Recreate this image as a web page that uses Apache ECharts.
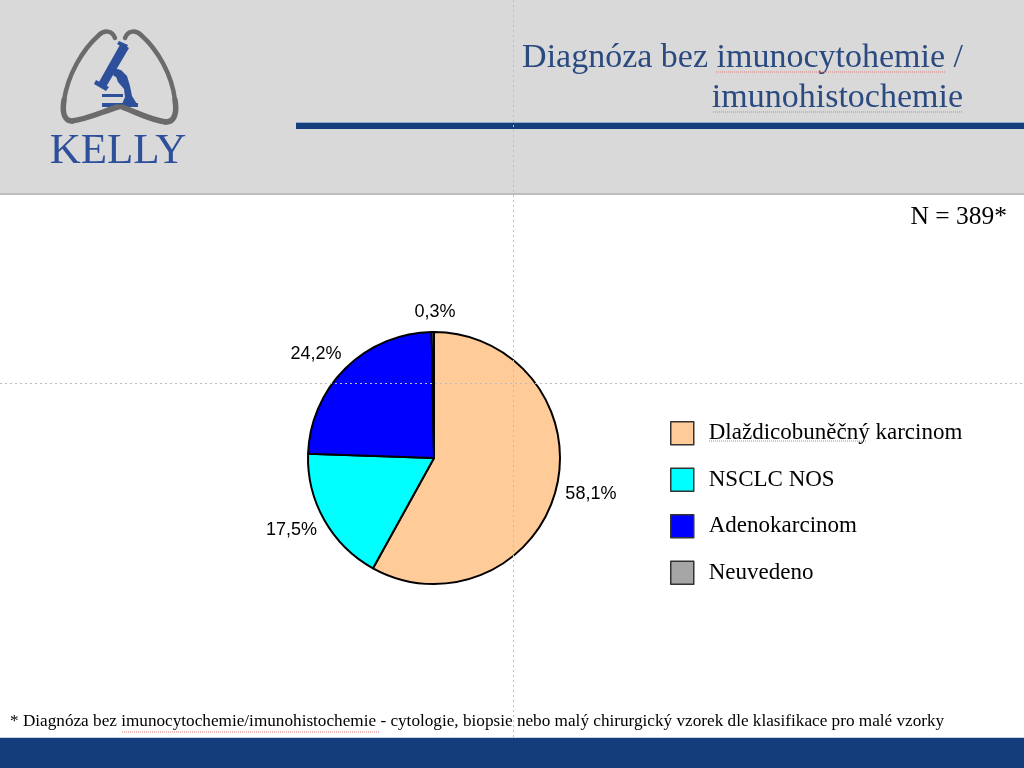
<!DOCTYPE html>
<html>
<head>
<meta charset="utf-8">
<title>Diagnóza bez imunocytohemie / imunohistochemie</title>
<script src="https://cdn.jsdelivr.net/npm/echarts@6/dist/echarts.min.js"></script>
<style>
  html, body { margin: 0; padding: 0; background: #fff; }
  #slide { width: 1024px; height: 768px; }
</style>
</head>
<body>
<div id="slide"></div>
<script>
// data
var categories = ['Dlaždicobuněčný karcinom', 'NSCLC NOS', 'Adenokarcinom', 'Neuvedeno'];
var shares = [58.1, 17.5, 24.2, 0.3];
var colors = ['#FFCC99', '#00FFFF', '#0000FF', '#A6A6A6'];

var Chart = echarts.init(document.getElementById('slide'));

var serif = '"Liberation Serif", "DejaVu Serif", serif';
var navy = '#143E7C';
var logoBlue = '#2E4F9A';

// one cubic segment of the lung outline
function curve(p, w) {
    return {
        type: 'bezierCurve',
        shape: { x1: p[0], y1: p[1], cpx1: p[2], cpy1: p[3], cpx2: p[4], cpy2: p[5], x2: p[6], y2: p[7] },
        style: { fill: 'none', stroke: '#6B6B6B', lineWidth: w || 4.5, lineCap: 'round' }
    };
}

var lungs = [
    curve([115, 38, 112, 30, 104, 30, 99, 35]),
    curve([99, 35, 82, 50, 68, 75, 64, 100]),
    curve([64, 100, 62, 112, 64, 121, 72, 121], 5.5),
    curve([72, 121, 88, 119, 104, 111, 118, 107], 5.5),
    curve([125, 38, 128, 30, 136, 30, 141, 35]),
    curve([141, 35, 158, 50, 172, 75, 175, 100]),
    curve([175, 100, 177, 112, 175, 122, 166, 122], 5.5),
    curve([166, 122, 150, 120, 136, 112, 122, 107], 5.5)
];

// red spell-check squiggles under some words
function squiggle(x1, x2, y) {
    return {
        type: 'line', shape: { x1: x1, y1: y, x2: x2, y2: y },
        style: { stroke: '#E07A7A', lineWidth: 1, lineDash: [1, 1] }
    };
}

var option = {
    backgroundColor: '#fff',
    animation: false,
    color: colors,
    legend: {
        orient: 'vertical',
        left: 665,
        top: 416,
        itemWidth: 23,
        itemHeight: 23,
        itemGap: 22,
        icon: 'rect',
        selectedMode: false,
        data: categories,
        itemStyle: { borderColor: '#333', borderWidth: 1.5 },
        textStyle: { fontFamily: serif, fontSize: 23, color: '#000', padding: [0, 0, 0, 10] }
    },
    graphic: [
        // header
        { type: 'rect', shape: { x: 0, y: 0, width: 1024, height: 193 }, style: { fill: '#D9D9D9' }, z: -10 },
        { type: 'rect', shape: { x: 0, y: 193, width: 1024, height: 2 }, style: { fill: '#BDBDBD' }, z: -10 },
        { type: 'rect', shape: { x: 296, y: 122, width: 728, height: 1 }, style: { fill: '#8FA9D0' }, z: -9 },
        { type: 'rect', shape: { x: 296, y: 123, width: 728, height: 6 }, style: { fill: navy }, z: -9 },
        {
            type: 'text', x: 963, y: 58,
            style: { text: 'Diagnóza bez imunocytohemie /', font: '34px ' + serif, fill: '#2B4A80', align: 'right', verticalAlign: 'middle' }
        },
        {
            type: 'text', x: 963, y: 98,
            style: { text: 'imunohistochemie', font: '34px ' + serif, fill: '#2B4A80', align: 'right', verticalAlign: 'middle' }
        },
        squiggle(716, 946, 72),
        squiggle(713, 963, 112),
        squiggle(709, 866, 441),
        squiggle(122, 380, 732),
        // logo: microscope
        { type: 'polygon', shape: { points: [[121, 43], [129, 48], [106, 87], [99, 82]] }, style: { fill: logoBlue } },
        { type: 'polygon', shape: { points: [[119, 41], [128, 45], [126, 49], [117, 44]] }, style: { fill: logoBlue } },
        { type: 'polygon', shape: { points: [[96, 80], [109, 87], [106, 91], [94, 84]] }, style: { fill: logoBlue } },
        {
            type: 'polygon',
            shape: { points: [[114, 71], [121, 70], [127, 76], [130, 86], [132, 96], [137, 104], [122, 104], [125, 97], [124, 89], [118, 82]] },
            style: { fill: logoBlue }
        },
        { type: 'circle', shape: { cx: 117, cy: 73, r: 4 }, style: { fill: logoBlue } },
        { type: 'rect', shape: { x: 102, y: 94, width: 21, height: 3 }, style: { fill: logoBlue } },
        { type: 'rect', shape: { x: 102, y: 103, width: 36, height: 4 }, style: { fill: logoBlue } },
        {
            type: 'text', x: 118, y: 152,
            style: { text: 'KELLY', font: '43px ' + serif, fill: logoBlue, align: 'center', verticalAlign: 'middle' }
        },
        // sample size
        {
            type: 'text', x: 1007, y: 217,
            style: { text: 'N = 389*', font: '25.5px ' + serif, fill: '#000', align: 'right', verticalAlign: 'middle' }
        },
        // guides, drawn over the chart
        {
            type: 'line', shape: { x1: 513.5, y1: 0, x2: 513.5, y2: 768 },
            style: { stroke: '#BDBDBD', lineWidth: 1, lineDash: [2, 3] }, z: 50
        },
        {
            type: 'line', shape: { x1: 0, y1: 383.5, x2: 1024, y2: 383.5 },
            style: { stroke: '#BDBDBD', lineWidth: 1, lineDash: [2, 3] }, z: 50
        },
        // footnote
        {
            type: 'text', x: 10, y: 721,
            style: {
                text: '* Diagnóza bez imunocytochemie/imunohistochemie - cytologie, biopsie nebo malý chirurgický vzorek dle klasifikace pro malé vzorky',
                font: '17.2px ' + serif, fill: '#000', align: 'left', verticalAlign: 'middle'
            }
        },
        // bottom band
        { type: 'rect', shape: { x: 0, y: 737, width: 1024, height: 1 }, style: { fill: '#C9D3E3' }, z: 60 },
        { type: 'rect', shape: { x: 0, y: 738, width: 1024, height: 30 }, style: { fill: '#133E7B' }, z: 60 }
    ].concat(lungs),
    series: [
        {
            type: 'pie',
            center: [434, 458],
            radius: [0, 126],
            startAngle: 90,
            clockwise: true,
            avoidLabelOverlap: false,
            itemStyle: { borderColor: '#000', borderWidth: 2 },
            emphasis: { disabled: true },
            label: {
                show: true,
                position: 'outside',
                fontFamily: '"Liberation Sans", Arial, sans-serif',
                fontSize: 18,
                color: '#000',
                distanceToLabelLine: -10,
                formatter: function (p) {
                    return p.value.toFixed(1).replace('.', ',') + '%';
                }
            },
            labelLine: { show: false, length: 20, length2: 0 },
            data: categories.map(function (name, i) {
                var item = { name: name, value: shares[i] };
                // the tiny slice at the top has its label centred above it
                if (shares[i] < 1) {
                    item.label = { distanceToLabelLine: -23 };
                }
                return item;
            })
        }
    ]
};

Chart.setOption(option);
</script>
</body>
</html>
